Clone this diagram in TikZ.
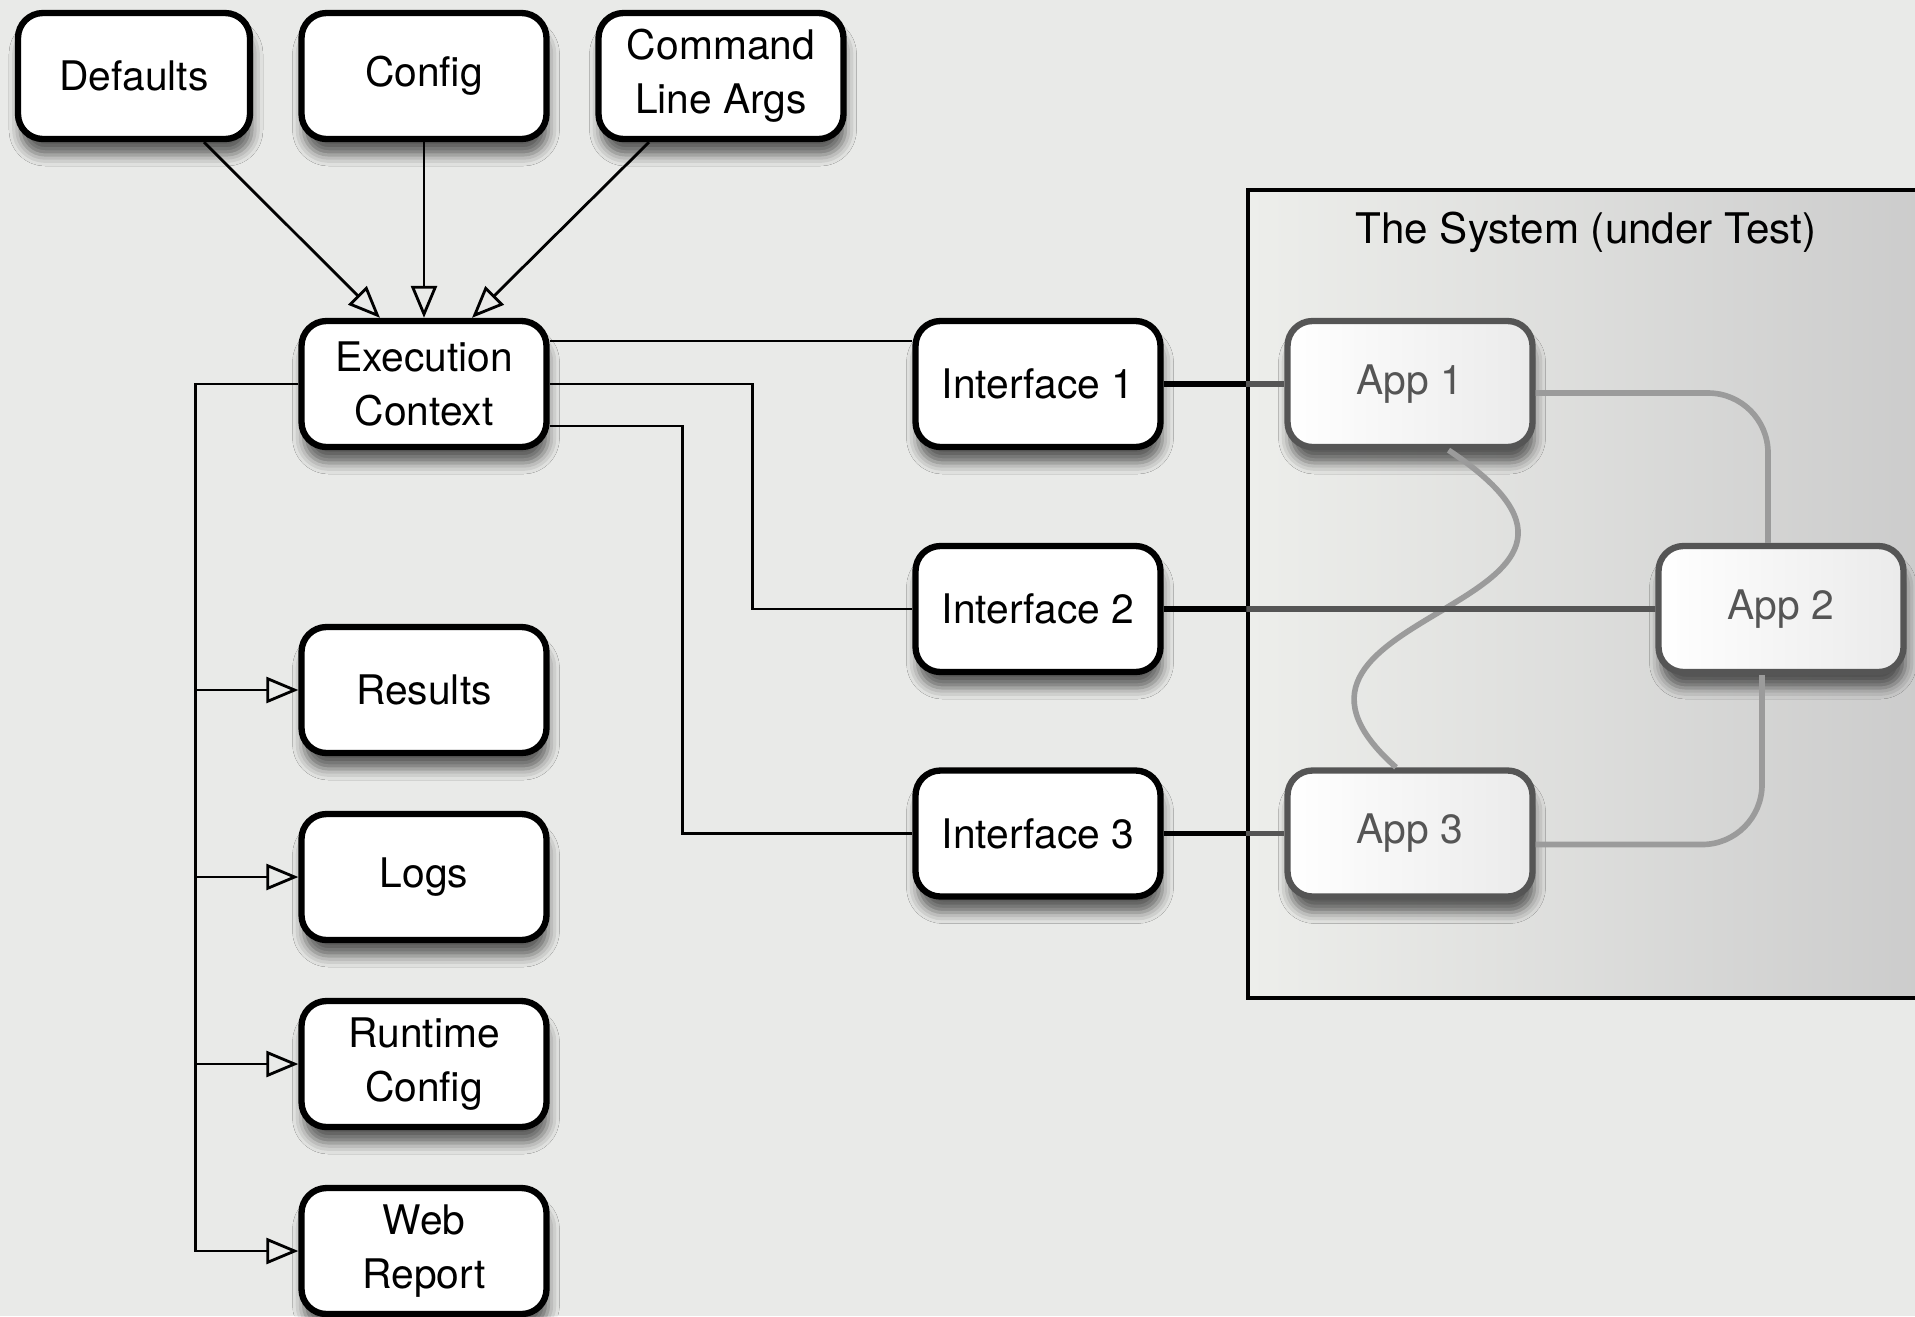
\documentclass[tikz,border=0pt]{standalone}
\usepackage{fontspec}
\setmainfont{TeX Gyre Heros}
\usetikzlibrary{arrows.meta,positioning,shadows.blur}
\pgfdeclarelayer{background layer}
\pgfsetlayers{background layer,main}
\definecolor{paper}{RGB}{233,234,232}
\definecolor{appgrey}{RGB}{85,85,85}
\definecolor{linkgrey}{RGB}{155,155,155}
\definecolor{sysleft}{RGB}{237,238,235}
\definecolor{sysright}{RGB}{202,202,202}

\begin{document}
\begin{tikzpicture}[node distance=1.87cm]
\tikzset{
  box/.style={draw=black,line width=1.8pt,rounded corners=0.25cm,fill=white,
    minimum width=2.45cm,minimum height=1.26cm,align=center,
    font=\fontsize{11.6}{15.3}\selectfont,
    blur shadow={shadow xshift=0.2mm,shadow yshift=-1.6mm,shadow blur radius=1.1mm,shadow opacity=60}},
  appbox/.style={box,draw=appgrey,text=appgrey,left color=white,right color=black!8},
  sysbox/.style={draw=black,line width=0.9pt,left color=sysleft,right color=sysright,
    minimum width=7.12cm,minimum height=8.08cm},
  wire/.style={line width=0.8pt},
  flow/.style={wire,-{Triangle[open,length=3.2mm,width=2.6mm]}},
  busline/.style={line width=1.6pt},
  link/.style={draw=linkgrey,line width=1.6pt,rounded corners=6mm}
}
\useasboundingbox (0,0) rectangle (19.15,-13.16);
\clip (0,0) rectangle (19.15,-13.16);

% the system under test
\node [sysbox] at (16.04,-5.94) (sys) {};
\node [font=\fontsize{12}{14}\selectfont] at (15.86,-2.32) (systitle) {The System (under Test)};

% inputs
\node [box,minimum width=2.32cm] at (1.34,-0.76) (def) {Defaults};
\node [box,right of=def,node distance=2.9cm] (cfg) {Config};
\node [box,right of=cfg,node distance=2.97cm] (cla) {Command\\Line Args};
\node [box,below of=cfg,node distance=3.08cm] (exec) {Execution\\Context};

% outputs
\node [box,below of=exec,node distance=3.06cm] (results) {Results};
\node [box,below of=results] (logs) {Logs};
\node [box,below of=logs] (runtime) {Runtime\\Config};
\node [box,below of=runtime] (web) {Web\\Report};

% interfaces and apps
\node [box] at (10.38,-3.84) (if1) {Interface 1};
\node [box,below of=if1,node distance=2.25cm] (if2) {Interface 2};
\node [box,below of=if2,node distance=2.245cm] (if3) {Interface 3};
\node [appbox] at (14.10,-3.84) (app1) {App 1};
\node [appbox,below of=app1,node distance=4.495cm] (app3) {App 3};
\node [appbox] at (17.81,-6.09) (app2) {App 2};

\draw [link] ([yshift=-0.9mm]app1.east) -| ([xshift=-1.3mm]app2.north);
\draw [link] ([xshift=-1.9mm]app2.south) |- ([yshift=-1.1mm]app3.east);
\draw [link] ([xshift=3.85mm]app1.south) .. controls +(2.4,-1.6) and +(-1.8,1.6) .. ([xshift=-1.4mm]app3.north);

\foreach \i/\a in {1/app1,2/app2,3/app3} {
  \draw [busline] (if\i.east) -- (if\i.east -| sys.west);
  \draw [busline,draw=appgrey] (if\i.east -| sys.west) -- (\a.west);
}

% execution context wiring
\coordinate (e1) at ([yshift=4.3mm]exec.east);
\coordinate (e3) at ([yshift=-4.2mm]exec.east);
\draw [wire] (e1) -- (e1 -| if1.west);
\draw [wire] (exec.east) -| ([xshift=-1.6cm]if2.west) -- (if2.west);
\draw [wire] (e3) -| ([xshift=-2.3cm]if3.west) -- (if3.west);

\draw [flow] ([xshift=7mm]def.south) -- ([xshift=-4.4mm]exec.north);
\draw [flow] (cfg) -- (exec);
\draw [flow] ([xshift=-7.2mm]cla.south) -- ([xshift=4.8mm]exec.north);

\draw [flow] (exec.west) -| ([xshift=-1.03cm]web.west) -- (web.west);
\foreach \n in {results,logs,runtime}
  \draw [flow] ([xshift=-1.03cm]\n.west) -- (\n.west);

\begin{pgfonlayer}{background layer}
\fill [paper] (0,0) rectangle (19.15,-13.16);
\end{pgfonlayer}
\end{tikzpicture}
\end{document}
